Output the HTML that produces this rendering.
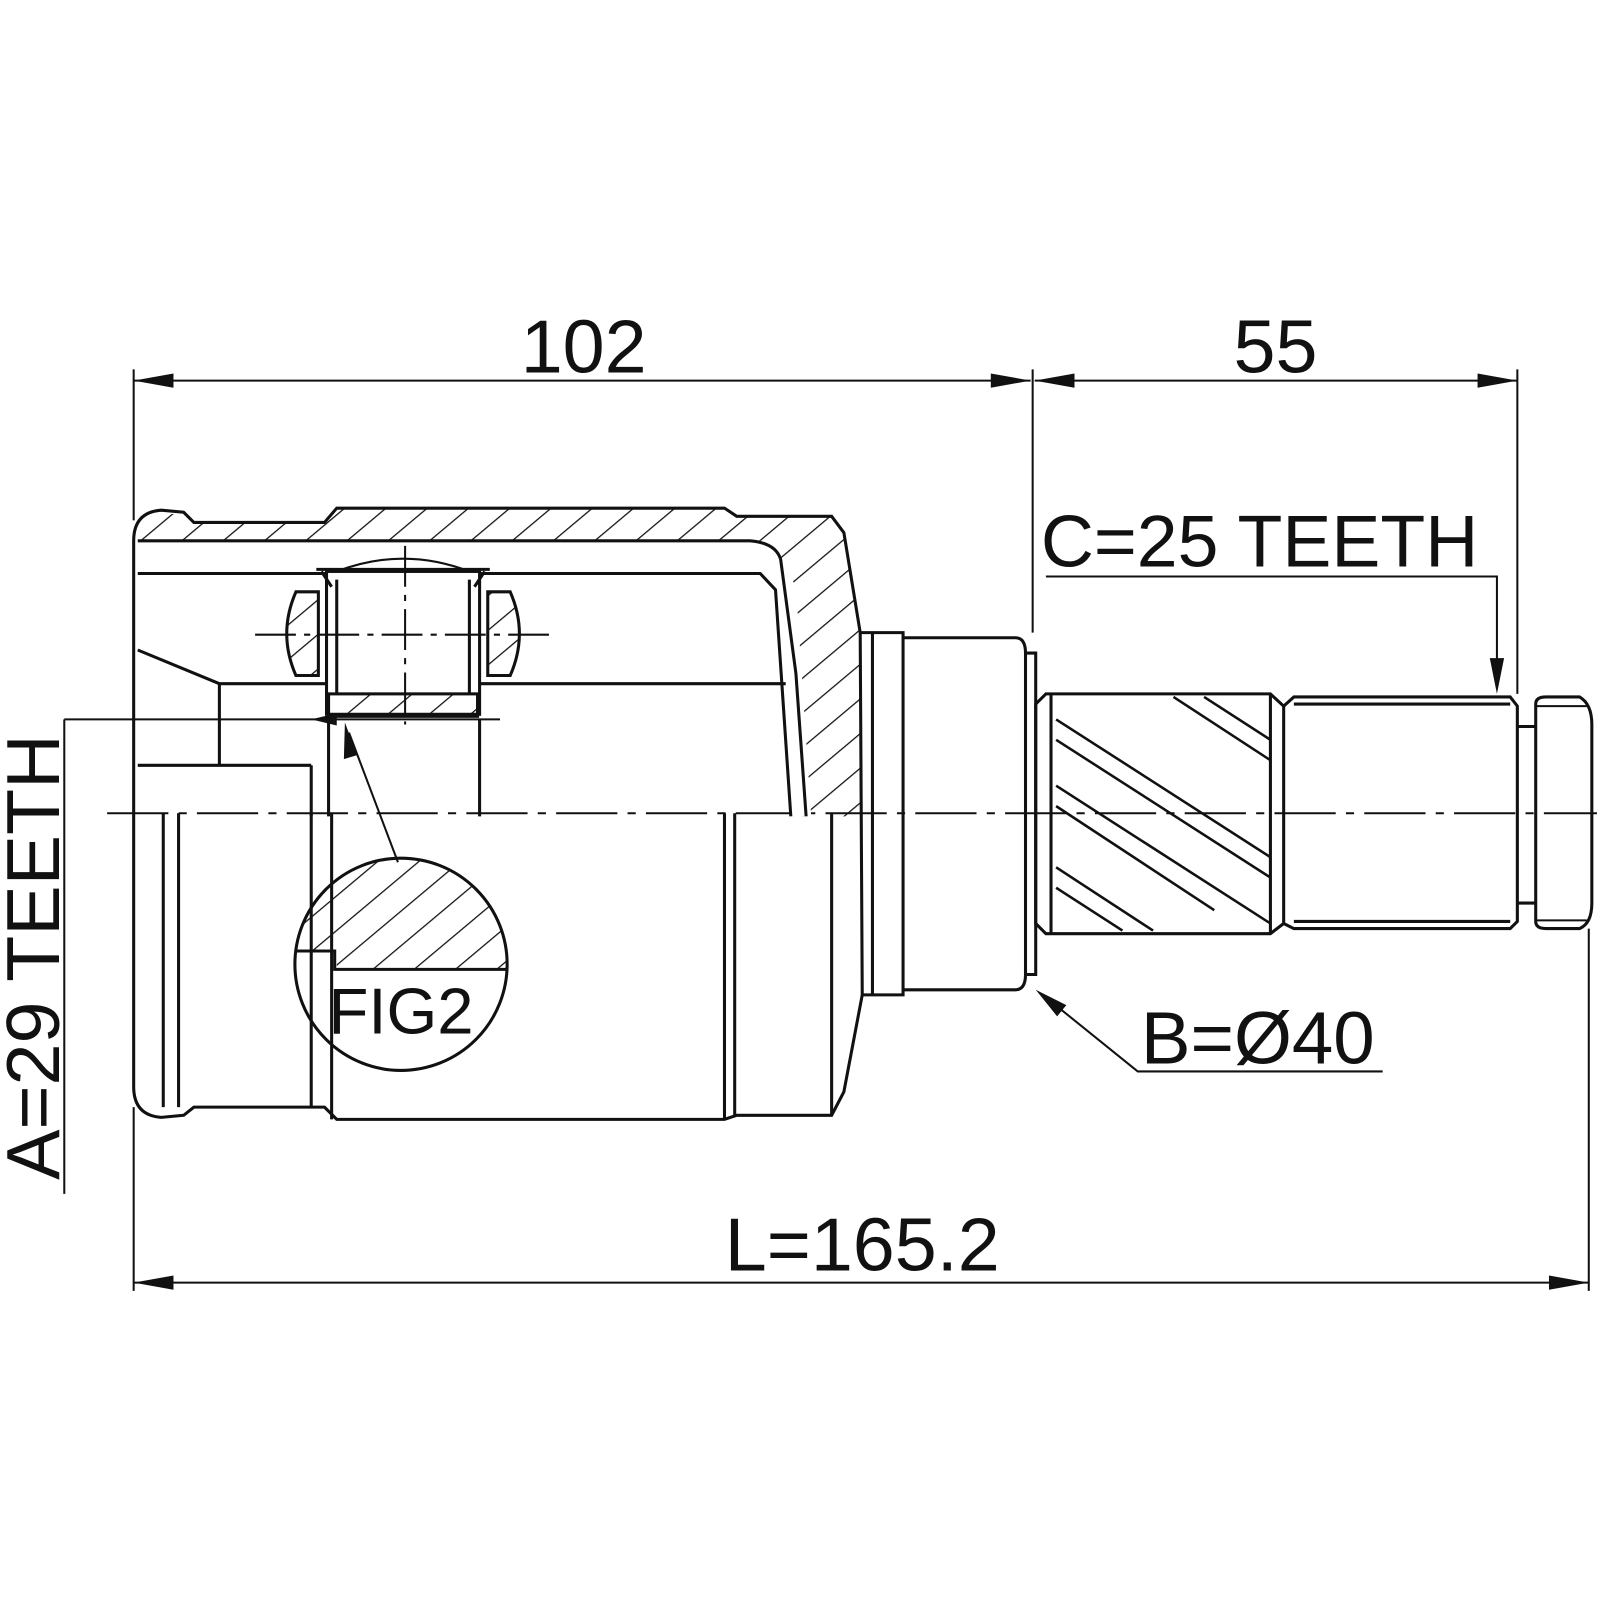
<!DOCTYPE html>
<html><head><meta charset="utf-8"><style>
html,body{margin:0;padding:0;background:#fff;width:1600px;height:1600px;overflow:hidden}
svg{display:block}
text{font-family:"Liberation Sans",sans-serif;fill:#111}
</style></head><body>
<svg width="1600" height="1600" viewBox="0 0 1568 1568" xmlns="http://www.w3.org/2000/svg">
<defs>
<pattern id="h" width="26" height="26" patternUnits="userSpaceOnUse" patternTransform="rotate(50)">
<line x1="0" y1="0" x2="0" y2="26" stroke="#111" stroke-width="2.5"/>
</pattern>
<clipPath id="fc"><circle cx="393" cy="945" r="104"/></clipPath>
</defs>
<g stroke="#111" fill="none" stroke-width="3">
<line x1="131" y1="362" x2="131" y2="510" stroke-width="2"/>
<line x1="1012" y1="362" x2="1012" y2="620" stroke-width="2"/>
<line x1="1487" y1="362" x2="1487" y2="680" stroke-width="2"/>
<line x1="131" y1="373" x2="1010" y2="373" stroke-width="2"/>
<line x1="1014" y1="373" x2="1487" y2="373" stroke-width="2"/>
<line x1="131" y1="1085" x2="131" y2="1265" stroke-width="2"/>
<line x1="1557" y1="910" x2="1557" y2="1265" stroke-width="2"/>
<line x1="131" y1="1257" x2="1557" y2="1257" stroke-width="2"/>
<line x1="63" y1="705" x2="63" y2="1170" stroke-width="2"/>
<line x1="63" y1="705" x2="490" y2="705" stroke-width="2"/>
<line x1="105" y1="797" x2="1565" y2="797" stroke-width="2" stroke-dasharray="60,10,8,10"/>
<path d="M135 530 L150 505 L180 503 L190 512 L318 512 L330 498 L710 498 L722 506 L815 506 L827 522 L843 620 L845 800 L775 800 L760 570 L745 535 L735 530 Z" fill="url(#h)" stroke="none"/>
<rect x="135" y="531" width="620" height="31" fill="#fff" stroke="none"/>
<path d="M745 562 L760 578 L775 800 L795 800 L780 575 L765 548 L745 531 Z" fill="#fff" stroke="none"/>
<path d="M131 530 Q131 502 158 500 L180 502 L190 512 L318 512 L330 498 L710 498 L722 506 L815 506 L827 522 L843 620 L845 975 L827 1070 L815 1093 L722 1093 L710 1097 L330 1097 L318 1085 L190 1085 L180 1093 L158 1095 Q131 1093 131 1065 Z"/>
<path d="M135 530 L735 530 Q760 532 765 548 L780 660 L790 800"/>
<path d="M135 562 L745 562 L760 578 L775 800"/>
<path d="M135 637 L215 670 L770 670"/>
<line x1="215" y1="670" x2="215" y2="750"/>
<line x1="135" y1="750" x2="305" y2="750"/>
<line x1="305" y1="750" x2="305" y2="800"/>
<line x1="322" y1="705" x2="322" y2="800"/>
<line x1="470" y1="705" x2="470" y2="800"/>
<line x1="160" y1="797" x2="160" y2="1085"/>
<line x1="175" y1="797" x2="175" y2="1085"/>
<line x1="305" y1="797" x2="305" y2="1085"/>
<line x1="325" y1="797" x2="325" y2="1097"/>
<line x1="710" y1="797" x2="710" y2="1097"/>
<line x1="720" y1="797" x2="720" y2="1093"/>
<line x1="815" y1="797" x2="815" y2="1093"/>
<rect x="320" y="560" width="150" height="140" fill="#fff"/>
<rect x="322" y="680" width="146" height="22" fill="url(#h)"/>
<line x1="330" y1="568" x2="330" y2="680"/>
<line x1="460" y1="568" x2="460" y2="680"/>
<path d="M310 558 L480 558 M315 560 L325 575 M475 560 L465 575"/>
<path d="M330 560 Q395 535 460 560" stroke-width="2"/>
<path d="M290 580 L312 580 L312 662 L290 662 Q272 621 290 580 Z" fill="url(#h)"/>
<path d="M478 580 L500 580 Q518 621 500 662 L478 662 Z" fill="url(#h)"/>
<line x1="250" y1="622" x2="540" y2="622" stroke-width="2" stroke-dasharray="40,8,6,8"/>
<line x1="397" y1="535" x2="397" y2="710" stroke-width="2" stroke-dasharray="40,8,6,8"/>
<path d="M843 620 L885 620 L885 975 L845 975"/>
<path d="M885 625 L995 625 Q1005 625 1005 640 L1005 955 Q1005 970 995 970 L885 970"/>
<line x1="855" y1="620" x2="855" y2="975"/>
<path d="M1005 640 L1015 640 L1015 955 L1005 955"/>
<path d="M1015 690 L1025 680 L1245 680 L1258 692 L1258 905 L1245 915 L1025 915 L1015 905 Z"/>
<line x1="1030" y1="680" x2="1030" y2="915"/>
<line x1="1245" y1="680" x2="1245" y2="915"/>
<g stroke-width="2.5">
<line x1="1035" y1="705" x2="1245" y2="840"/>
<line x1="1035" y1="725" x2="1245" y2="860"/>
<line x1="1035" y1="770" x2="1245" y2="905"/>
<line x1="1035" y1="790" x2="1190" y2="892"/>
<line x1="1035" y1="850" x2="1130" y2="912"/>
<line x1="1035" y1="870" x2="1100" y2="912"/>
<line x1="1150" y1="683" x2="1245" y2="745"/>
<line x1="1180" y1="683" x2="1245" y2="725"/>
</g>
<path d="M1258 692 L1268 683 L1480 683 L1487 692 L1487 903 L1480 910 L1268 910 L1258 905"/>
<line x1="1268" y1="690" x2="1480" y2="690"/>
<line x1="1268" y1="903" x2="1480" y2="903"/>
<path d="M1487 712 L1505 712 M1487 885 L1505 885"/>
<path d="M1505 690 Q1505 683 1515 683 L1548 683 Q1560 690 1560 710 L1560 885 Q1560 905 1548 910 L1515 910 Q1505 910 1505 903 Z"/>
<line x1="1505" y1="692" x2="1555" y2="692" stroke-width="2"/>
<line x1="1505" y1="902" x2="1555" y2="902" stroke-width="2"/>
<g clip-path="url(#fc)">
<path d="M280 830 L520 830 L520 950 L330 950 L330 932 L280 932 Z" fill="url(#h)" stroke="none"/>
<path d="M280 932 L328 932 L328 950 L520 950"/>
</g>
<circle cx="393" cy="945" r="104" fill="none"/>
<line x1="390" y1="845" x2="342" y2="718" stroke-width="2"/>
<path d="M1025 565 L1467 565 L1467 672" stroke-width="2"/>
<path d="M1355 1050 L1115 1050 L1022 975" stroke-width="2"/>
</g>
<g fill="#111">
<path d="M131 373 L170 366 L170 380 Z"/>
<path d="M1010 373 L971 366 L971 380 Z"/>
<path d="M1014 373 L1053 366 L1053 380 Z"/>
<path d="M1487 373 L1448 366 L1448 380 Z"/>
<path d="M131 1257 L170 1250 L170 1264 Z"/>
<path d="M1557 1257 L1518 1250 L1518 1264 Z"/>
<path d="M1467 680 L1460 645 L1474 645 Z"/>
<path d="M1015 970 L1045 985 L1036 996 Z"/>
<path d="M338 708 L350 740 L337 744 Z"/>
<path d="M305 705 L330 699 L330 711 Z"/>
</g>
<text x="572" y="365" font-size="74" text-anchor="middle">102</text>
<text x="1250" y="365" font-size="74" text-anchor="middle">55</text>
<text x="845" y="1245" font-size="74" text-anchor="middle">L=165.2</text>
<text x="1020" y="555" font-size="72">C=25 TEETH</text>
<text x="1118" y="1042" font-size="73">B=Ø40</text>
<text x="393" y="1013" font-size="64" text-anchor="middle">FIG2</text>
<text transform="translate(58,938) rotate(-90)" font-size="74" text-anchor="middle">A=29 TEETH</text>
</svg>
</body></html>
